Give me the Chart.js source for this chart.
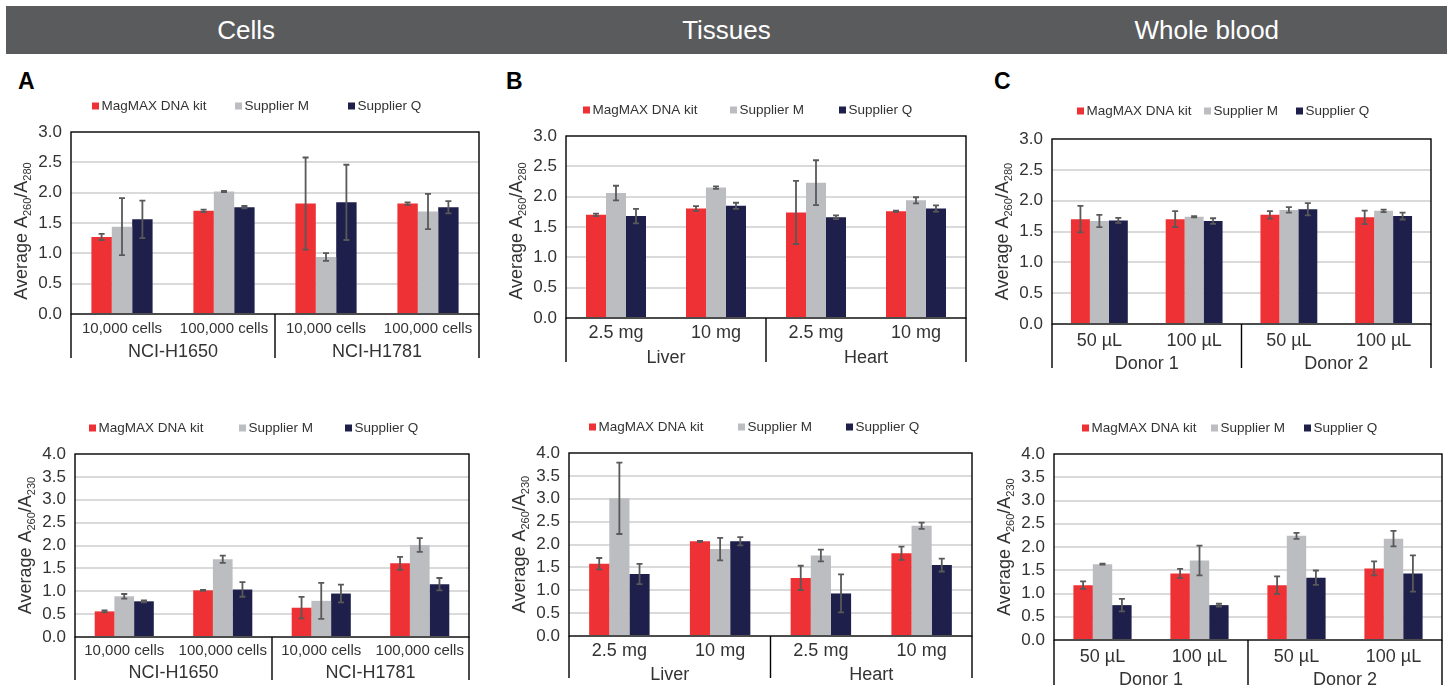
<!DOCTYPE html>
<html><head><meta charset="utf-8">
<script src="https://cdn.jsdelivr.net/npm/chart.js"></script>
<style>
body{margin:0;background:#fff;width:1452px;height:692px;overflow:hidden;position:relative;font-family:"Liberation Sans",Arial,sans-serif;}
#hdr{position:absolute;left:6px;top:6px;width:1441px;height:48px;background:#5a5b5d;display:flex;}
#hdr div{flex:1;text-align:center;color:#fff;font-size:26px;line-height:48px;}
.let{position:absolute;font-weight:bold;font-size:23px;line-height:23px;color:#000;}
canvas{position:absolute;}
</style></head><body>
<div id="hdr"><div>Cells</div><div>Tissues</div><div>Whole blood</div></div>
<div class="let" style="left:18px;top:70px">A</div>
<div class="let" style="left:506px;top:70px">B</div>
<div class="let" style="left:994px;top:70px">C</div>
<canvas id="ta"></canvas><canvas id="tb"></canvas><canvas id="tc"></canvas>
<canvas id="ba"></canvas><canvas id="bb"></canvas><canvas id="bc"></canvas>
<script>
// ---------- data ----------
const seriesNames = ['MagMAX DNA kit', 'Supplier M', 'Supplier Q'];
const cellCats = ['10,000 cells', '100,000 cells', '10,000 cells', '100,000 cells'];
const cellGroups = ['NCI-H1650', 'NCI-H1781'];
const tissueCats = ['2.5 mg', '10 mg', '2.5 mg', '10 mg'];
const tissueGroups = ['Liver', 'Heart'];
const bloodCats = ['50 µL', '100 µL', '50 µL', '100 µL'];
const bloodGroups = ['Donor 1', 'Donor 2'];
const ticks280 = [0, 0.5, 1.0, 1.5, 2.0, 2.5, 3.0];
const ticks230 = [0, 0.5, 1.0, 1.5, 2.0, 2.5, 3.0, 3.5, 4.0];

// A260/A280
const cells280MagMAX = [1.27, 1.70, 1.82, 1.82];
const cells280SupM   = [1.44, 2.02, 0.94, 1.69];
const cells280SupQ   = [1.56, 1.76, 1.84, 1.76];
const cells280ErrMagMAX = [0.05, 0.02, 0.76, 0.02];
const cells280ErrSupM   = [0.47, 0.01, 0.065, 0.29];
const cells280ErrSupQ   = [0.31, 0.02, 0.62, 0.10];

const tissue280MagMAX = [1.70, 1.805, 1.74, 1.76];
const tissue280SupM   = [2.06, 2.15, 2.23, 1.94];
const tissue280SupQ   = [1.68, 1.85, 1.66, 1.805];
const tissue280ErrMagMAX = [0.02, 0.04, 0.52, 0.01];
const tissue280ErrSupM   = [0.12, 0.02, 0.37, 0.05];
const tissue280ErrSupQ   = [0.12, 0.05, 0.03, 0.05];

const blood280MagMAX = [1.70, 1.70, 1.77, 1.73];
const blood280SupM   = [1.67, 1.74, 1.85, 1.835];
const blood280SupQ   = [1.68, 1.67, 1.86, 1.75];
const blood280ErrMagMAX = [0.215, 0.13, 0.06, 0.11];
const blood280ErrSupM   = [0.10, 0.01, 0.045, 0.02];
const blood280ErrSupQ   = [0.04, 0.045, 0.10, 0.055];

// A260/A230
const cells230MagMAX = [0.56, 1.02, 0.64, 1.61];
const cells230SupM   = [0.89, 1.70, 0.79, 2.01];
const cells230SupQ   = [0.78, 1.04, 0.95, 1.155];
const cells230ErrMagMAX = [0.02, 0.01, 0.235, 0.14];
const cells230ErrSupM   = [0.05, 0.08, 0.395, 0.15];
const cells230ErrSupQ   = [0.02, 0.16, 0.195, 0.135];

const tissue230MagMAX = [1.58, 2.07, 1.27, 1.81];
const tissue230SupM   = [3.01, 1.90, 1.76, 2.41];
const tissue230SupQ   = [1.355, 2.07, 0.93, 1.55];
const tissue230ErrMagMAX = [0.125, 0.01, 0.265, 0.145];
const tissue230ErrSupM   = [0.78, 0.245, 0.13, 0.07];
const tissue230ErrSupQ   = [0.22, 0.09, 0.415, 0.14];

const blood230MagMAX = [1.18, 1.43, 1.18, 1.54];
const blood230SupM   = [1.63, 1.71, 2.24, 2.18];
const blood230SupQ   = [0.75, 0.75, 1.34, 1.43];
const blood230ErrMagMAX = [0.08, 0.10, 0.19, 0.15];
const blood230ErrSupM   = [0.01, 0.32, 0.065, 0.165];
const blood230ErrSupQ   = [0.135, 0.03, 0.155, 0.39];

// ---------- styles ----------
const seriesColors = ['#ee3135', '#bcbdc0', '#1e1f4b'];
const F = '"Liberation Sans", Arial, sans-serif';
const TXT = '#333333';

const decoPlugin = {
  id: 'deco',
  afterDatasetsDraw(chart) {
    const o = chart.options.plugins.deco;
    const ys = chart.scales.y, ctx = chart.ctx;
    ctx.save();
    ctx.strokeStyle = '#595959';
    ctx.lineWidth = 1.8;
    chart.data.datasets.forEach((ds, i) => {
      chart.getDatasetMeta(i).data.forEach((bar, j) => {
        const v = ds.data[j], e = o.errors[i][j];
        const y1 = ys.getPixelForValue(v + e), y2 = ys.getPixelForValue(v - e);
        const x = bar.x;
        ctx.beginPath();
        ctx.moveTo(x, y1); ctx.lineTo(x, y2);
        ctx.moveTo(x - 3, y1); ctx.lineTo(x + 3, y1);
        ctx.moveTo(x - 3, y2); ctx.lineTo(x + 3, y2);
        ctx.stroke();
      });
    });
    ctx.restore();
  },
  afterDraw(chart) {
    const o = chart.options.plugins.deco;
    const ctx = chart.ctx, a = chart.chartArea, xs = chart.scales.x;
    ctx.save();
    // frame
    ctx.strokeStyle = '#000';
    ctx.lineWidth = 1.4;
    ctx.strokeRect(a.left, a.top, a.right - a.left, a.bottom - a.top);
    // group separators & labels
    const mid = (xs.getPixelForValue(1) + xs.getPixelForValue(2)) / 2;
    ctx.beginPath();
    [a.left, mid, a.right].forEach(x => { ctx.moveTo(x, a.bottom); ctx.lineTo(x, a.bottom + o.sepLen); });
    ctx.stroke();
    ctx.fillStyle = TXT;
    ctx.font = '18px ' + F;
    ctx.textAlign = 'center';
    ctx.textBaseline = 'middle';
    ctx.fillText(o.groups[0], (a.left + mid) / 2, a.bottom + o.groupY);
    ctx.fillText(o.groups[1], (mid + a.right) / 2, a.bottom + o.groupY);
    // legend
    ctx.font = '13.5px ' + F;
    ctx.textAlign = 'left';
    chart.data.datasets.forEach((ds, i) => {
      const bx = o.legendX[i];
      ctx.fillStyle = ds.backgroundColor;
      ctx.fillRect(bx, o.legendY - 3.5, 7, 7);
      ctx.fillStyle = TXT;
      ctx.fillText(ds.label, bx + 9.5, o.legendY + 0.5);
    });
    // y title with subscripts
    const segs = [['Average A', 0], ['260', 1], ['/A', 0], [o.sub, 1]];
    const fMain = '18px ' + F, fSub = '11px ' + F;
    let w = 0;
    segs.forEach(s => { ctx.font = s[1] ? fSub : fMain; w += ctx.measureText(s[0]).width; });
    ctx.translate(a.left - 50, (a.top + a.bottom) / 2 + o.titleDy);
    ctx.rotate(-Math.PI / 2);
    ctx.textBaseline = 'alphabetic';
    let x = -w / 2;
    segs.forEach(s => {
      ctx.font = s[1] ? fSub : fMain;
      ctx.fillText(s[0], x, s[1] ? 10 : 6);
      x += ctx.measureText(s[0]).width;
    });
    ctx.restore();
  }
};

function makePanel(id, p) {
  const cv = document.getElementById(id);
  const left = p.L - 75, top = p.rowTop;
  const width = p.R - left + 8, height = p.rowH;
  cv.style.left = left + 'px'; cv.style.top = top + 'px';
  cv.width = width; cv.height = height;
  cv.style.width = width + 'px'; cv.style.height = height + 'px';
  const maxV = p.ticks[p.ticks.length - 1];
  new Chart(cv, {
    type: 'bar',
    data: {
      labels: p.cats,
      datasets: p.values.map((d, i) => ({
        label: seriesNames[i], data: d, backgroundColor: seriesColors[i],
        borderWidth: 0, categoryPercentage: 0.6, barPercentage: 1.0
      }))
    },
    options: {
      responsive: false, animation: false, devicePixelRatio: 1,
      layout: { padding: { left: 0, top: p.T - top, right: width - (p.R - left), bottom: 0 } },
      scales: {
        x: {
          grid: { display: false, drawTicks: false }, border: { display: false },
          ticks: { font: { size: p.catSize, family: F }, color: TXT, padding: p.catPad, maxRotation: 0, autoSkip: false },
          afterFit(s) { s.height = height - (p.B - top); }
        },
        y: {
          min: 0, max: maxV,
          afterBuildTicks(s) { s.ticks = p.ticks.map(v => ({ value: v })); },
          ticks: { callback: v => Number(v).toFixed(1), font: { size: 17, family: F }, color: TXT, padding: 9, autoSkip: false },
          grid: {
            color: c => (c.tick && (c.tick.value === 0 || c.tick.value === maxV)) ? 'rgba(0,0,0,0)' : '#dadada',
            lineWidth: 2, drawTicks: false
          },
          border: { display: false },
          afterFit(s) { s.width = 75; }
        }
      },
      plugins: {
        legend: { display: false }, tooltip: { enabled: false },
        deco: {
          errors: p.errors, groups: p.groups, sub: p.sub,
          sepLen: p.sepLen, groupY: p.groupY, titleDy: p.titleDy,
          legendX: p.legendX.map(v => v - left), legendY: p.legendY - top
        }
      }
    },
    plugins: [decoPlugin]
  });
}

makePanel('ta', { L: 71, T: 132, R: 479, B: 314, rowTop: 88, rowH: 290, ticks: ticks280, sub: '280',
  cats: cellCats, groups: cellGroups, catSize: 15, catPad: 6,
  values: [cells280MagMAX, cells280SupM, cells280SupQ],
  errors: [cells280ErrMagMAX, cells280ErrSupM, cells280ErrSupQ],
  groupY: 38, sepLen: 44, titleDy: 8, legendX: [92, 235, 348], legendY: 106 });
makePanel('tb', { L: 566, T: 136, R: 966, B: 318, rowTop: 88, rowH: 290, ticks: ticks280, sub: '280',
  cats: tissueCats, groups: tissueGroups, catSize: 18, catPad: 4.5,
  values: [tissue280MagMAX, tissue280SupM, tissue280SupQ],
  errors: [tissue280ErrMagMAX, tissue280ErrSupM, tissue280ErrSupQ],
  groupY: 40, sepLen: 44, titleDy: 4, legendX: [583, 730, 839], legendY: 110 });
makePanel('tc', { L: 1052, T: 139, R: 1431, B: 324, rowTop: 88, rowH: 290, ticks: ticks280, sub: '280',
  cats: bloodCats, groups: bloodGroups, catSize: 18, catPad: 6.5,
  values: [blood280MagMAX, blood280SupM, blood280SupQ],
  errors: [blood280ErrMagMAX, blood280ErrSupM, blood280ErrSupQ],
  groupY: 40, sepLen: 44, titleDy: 0, legendX: [1077, 1204, 1296], legendY: 111 });
makePanel('ba', { L: 75, T: 454, R: 469, B: 637, rowTop: 408, rowH: 284, ticks: ticks230, sub: '230',
  cats: cellCats, groups: cellGroups, catSize: 15, catPad: 5,
  values: [cells230MagMAX, cells230SupM, cells230SupQ],
  errors: [cells230ErrMagMAX, cells230ErrSupM, cells230ErrSupQ],
  groupY: 36, sepLen: 43, titleDy: 0, legendX: [89, 239, 345], legendY: 428 });
makePanel('bb', { L: 569, T: 453, R: 972, B: 636, rowTop: 408, rowH: 284, ticks: ticks230, sub: '230',
  cats: tissueCats, groups: tissueGroups, catSize: 18, catPad: 4,
  values: [tissue230MagMAX, tissue230SupM, tissue230SupQ],
  errors: [tissue230ErrMagMAX, tissue230ErrSupM, tissue230ErrSupQ],
  groupY: 39, sepLen: 42, titleDy: 0, legendX: [589, 738, 846], legendY: 427 });
makePanel('bc', { L: 1054, T: 454, R: 1442, B: 640, rowTop: 408, rowH: 284, ticks: ticks230, sub: '230',
  cats: bloodCats, groups: bloodGroups, catSize: 18, catPad: 6.5,
  values: [blood230MagMAX, blood230SupM, blood230SupQ],
  errors: [blood230ErrMagMAX, blood230ErrSupM, blood230ErrSupQ],
  groupY: 40, sepLen: 45, titleDy: 0, legendX: [1082, 1211, 1304], legendY: 428 });
</script>
</body></html>
